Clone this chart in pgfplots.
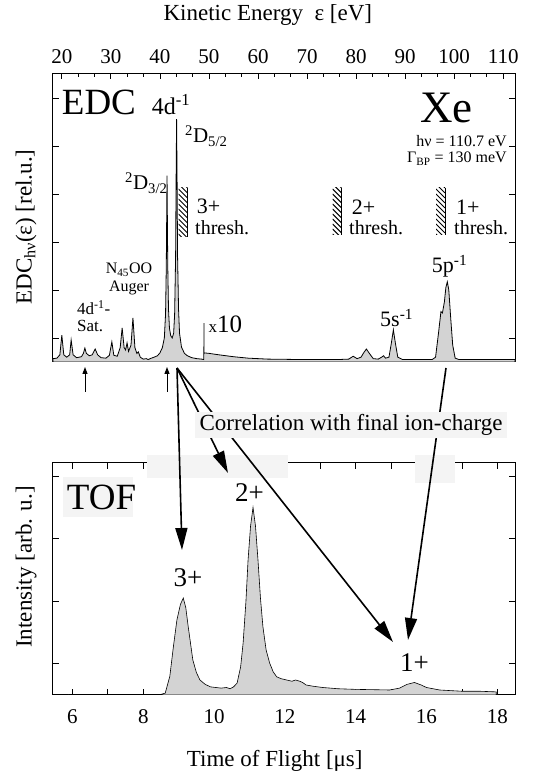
\documentclass[border=0pt]{standalone}
\usepackage{fontspec}
\setmainfont{Liberation Serif}
\usepackage{pgfplots}
\pgfplotsset{compat=1.18}
\usetikzlibrary{arrows.meta}
\newcommand\fs[1]{\fontsize{#1}{#1}\selectfont}
\definecolor{fillgray}{HTML}{D3D3D3}
\definecolor{boxgray}{HTML}{F4F4F4}
\newcommand\hatch[3]{%
  \begin{scope}
    \clip (#1-9,#3) rectangle (#1,#2);
    \foreach \k in {0,...,13} {\draw[line width=1pt] (#1-9,#2+9-\k*5) -- (#1,#2-\k*5);}
  \end{scope}
  \draw[line width=1pt] (#1,#2) -- (#1,#3);
}
\begin{document}
\begin{tikzpicture}
\path[use as bounding box] (0,0) rectangle (535pt,772pt);
% ---------------- EDC ----------------
\begin{axis}[at={(53pt,410pt)}, anchor=south west, scale only axis,
  width=462pt, height=289pt,
  xmin=18.2, xmax=112.4, ymin=0, ymax=6.02,
  axis line style={line width=1pt},
  xtick={20,30,...,110}, minor x tick num=2,
  xtick pos=right, xticklabel pos=right,
  ytick={0.5,1.5,...,5.5}, yticklabels={},
  tick align=inside, major tick length=6pt, minor tick length=4pt,
  every tick/.style={black, line width=0.8pt},
  /pgf/number format/assume math mode=true,
  ticklabel style={font=\fs{21}},
  xticklabel style={yshift=6pt},
  xlabel={Kinetic Energy\ \ ε [eV]},
  xlabel style={font=\fs{23}, at={(axis description cs:0.465,1.2)}, anchor=center},
  ylabel={EDC\textsubscript{hν}(ε) [rel.u.]},
  ylabel style={font=\fs{23}, at={(axis description cs:-0.058,0.467)}, anchor=center},
]
\addplot[draw=black, line width=0.8pt, fill=fillgray] table {
18.2 0.07
19.0 0.08
19.6 0.15
20.0 0.56
20.4 0.15
21.0 0.10
21.6 0.15
21.9 0.46
22.3 0.15
23.0 0.09
24.0 0.11
24.4 0.18
24.7 0.29
25.0 0.18
25.6 0.13
26.2 0.15
26.8 0.27
27.3 0.15
28.0 0.09
29.0 0.08
29.7 0.14
30.2 0.42
30.6 0.14
31.3 0.12
31.9 0.30
32.3 0.71
32.7 0.30
33.0 0.25
33.3 0.40
33.6 0.22
34.1 0.35
34.5 0.92
34.9 0.30
35.3 0.18
35.6 0.21
36.0 0.10
36.6 0.06
37.2 0.07
37.6 0.05
38.0 0.07
38.8 0.10
39.5 0.13
40.0 0.19
40.5 0.30
40.9 0.50
41.15 1.00
41.3 2.00
41.45 3.88
41.6 2.00
41.75 1.10
41.95 0.70
42.2 0.55
42.5 0.50
42.8 0.60
43.0 1.00
43.2 2.20
43.3 3.80
43.4 5.06
43.5 3.80
43.6 2.20
43.8 1.10
44.0 0.60
44.4 0.31
45.0 0.18
45.6 0.13
46.5 0.09
47.5 0.07
48.5 0.06
48.95 0.05
49.0 0.81
49.0 0.19
50.0 0.18
52.0 0.15
55.0 0.11
58.0 0.08
62.0 0.06
70.0 0.05
76.0 0.05
78.5 0.06
79.4 0.12
80.2 0.07
81.0 0.10
81.6 0.20
82.1 0.27
82.7 0.18
83.5 0.07
84.5 0.06
85.2 0.10
85.6 0.13
86.0 0.08
86.7 0.10
87.2 0.40
87.6 0.67
88.0 0.40
88.5 0.10
89.5 0.05
95.5 0.05
96.2 0.10
96.8 0.60
97.3 1.05
97.6 1.02
98.0 1.25
98.3 1.55
98.6 1.67
98.9 1.50
99.3 0.90
99.7 0.35
100.2 0.08
101.0 0.05
112.4 0.05
} \closedcycle;
\end{axis}
% ---------------- TOF ----------------
\begin{axis}[at={(53pt,77pt)}, anchor=south west, scale only axis,
  width=462pt, height=232pt,
  xmin=5.45, xmax=18.5, ymin=0, ymax=3.71,
  axis line style={line width=1pt},
  xtick={6,8,...,18}, minor xtick={7,9,...,17},
  ytick={0.5,1.5,2.5,3.5}, yticklabels={},
  tick align=inside, major tick length=6pt, minor tick length=6pt,
  every tick/.style={black, line width=0.8pt},
  /pgf/number format/assume math mode=true,
  ticklabel style={font=\fs{21}},
  xticklabel style={yshift=-11pt},
  xlabel={Time of Flight [μs]},
  xlabel style={font=\fs{23}, at={(axis description cs:0.48,-0.285)}, anchor=center},
  ylabel={Intensity [arb. u.]},
  ylabel style={font=\fs{23}, at={(axis description cs:-0.058,0.552)}, anchor=center},
]
\addplot[draw=black, line width=0.6pt, fill=fillgray] table {
5.9 0.01
8.5 0.01
8.62 0.03
8.75 0.30
8.85 0.77
8.95 1.20
9.05 1.45
9.13 1.55
9.2 1.40
9.27 1.09
9.4 0.56
9.5 0.36
9.6 0.24
9.75 0.17
9.9 0.13
10.05 0.12
10.2 0.11
10.35 0.12
10.45 0.10
10.55 0.13
10.65 0.19
10.75 0.45
10.82 0.83
10.9 1.50
10.96 2.16
11.03 2.70
11.1 3.00
11.17 2.70
11.24 2.16
11.31 1.55
11.38 1.09
11.47 0.72
11.57 0.51
11.67 0.37
11.77 0.29
11.9 0.26
12.05 0.24
12.2 0.22
12.3 0.24
12.42 0.22
12.5 0.20
12.6 0.16
12.8 0.14
13.07 0.12
13.5 0.10
14.0 0.09
14.5 0.085
14.96 0.08
15.24 0.11
15.45 0.17
15.66 0.20
15.85 0.16
16.0 0.12
16.37 0.08
17.0 0.06
17.5 0.06
17.97 0.05
} \closedcycle;
\end{axis}
% ---------------- annotations ----------------
\begin{scope}[x=1pt,y=1pt]
% EDC labels
\node[anchor=base west, inner sep=0, font=\fs{37}] at (61.7,657) {EDC};
\node[anchor=base west, inner sep=0, font=\fs{24}] at (151.7,657) {4d\textsuperscript{-1}};
\node[anchor=base west, inner sep=0, font=\fs{21}] at (185,629) {\textsuperscript{2}D\textsubscript{5/2}};
\node[anchor=base west, inner sep=0, font=\fs{21}] at (125,582) {\textsuperscript{2}D\textsubscript{3/2}};
\node[anchor=base, inner sep=0, font=\fs{16}] at (129,498) {N\textsubscript{45}OO};
\node[anchor=base, inner sep=0, font=\fs{16}] at (129,480) {Auger};
\node[anchor=base west, inner sep=0, font=\fs{17}] at (77,457) {4d\textsuperscript{-1}-};
\node[anchor=base west, inner sep=0, font=\fs{17}] at (77,440) {Sat.};
\node[anchor=base west, inner sep=0] at (208.3,439) {\fs{17}x\fs{25}10};
\node[anchor=base west, inner sep=0, font=\fs{45}] at (420,649) {Xe};
\node[anchor=base east, inner sep=0, font=\fs{16}] at (507,625.5) {hν = 110.7 eV};
\node[anchor=base east, inner sep=0, font=\fs{16}] at (507,609) {Γ\textsubscript{BP} = 130 meV};
\node[anchor=base west, inner sep=0, font=\fs{22}] at (380,445) {5s\textsuperscript{-1}};
\node[anchor=base west, inner sep=0, font=\fs{22}] at (431.7,499) {5p\textsuperscript{-1}};
% thresholds
\hatch{187.5}{584}{535}
\hatch{341.7}{584}{537}
\hatch{445}{584}{537}
\node[anchor=base west, inner sep=0, font=\fs{22}] at (196.7,558) {3+};
\node[anchor=base west, inner sep=0, font=\fs{20}] at (195,537) {thresh.};
\node[anchor=base west, inner sep=0, font=\fs{22}] at (351.7,557) {2+};
\node[anchor=base west, inner sep=0, font=\fs{20}] at (349,537) {thresh.};
\node[anchor=base west, inner sep=0, font=\fs{22}] at (456,557) {1+};
\node[anchor=base west, inner sep=0, font=\fs{20}] at (454,537) {thresh.};
% TOF labels
\fill[boxgray] (147,294) rectangle (288,317);
\fill[boxgray] (415,289) rectangle (455,317);
\fill[boxgray] (63,255) rectangle (133,295);
\node[anchor=base west, inner sep=0, font=\fs{37}] at (66.7,262) {TOF};
\node[anchor=base west, inner sep=0, font=\fs{27}] at (173.3,185) {3+};
\node[anchor=base west, inner sep=0, font=\fs{27}] at (235,270) {2+};
\node[anchor=base west, inner sep=0, font=\fs{27}] at (400,100) {1+};
% arrows
\draw[line width=1pt, -{Triangle[length=7pt,width=5pt]}] (85,380) -- (85,405);
\draw[line width=1pt, -{Triangle[length=7pt,width=5pt]}] (167,380) -- (167,405);
\draw[line width=1.6pt, -{Triangle[length=22pt,width=12pt]}] (177,404) -- (182,222);
\draw[line width=1.6pt, -{Triangle[length=22pt,width=12pt]}] (177,404) -- (228,299);
\draw[line width=1.6pt, -{Triangle[length=22pt,width=12pt]}] (177,404) -- (393,130);
\draw[line width=1.6pt, -{Triangle[length=22pt,width=12pt]}] (446,404) -- (408,132);
\fill[boxgray] (195,334) rectangle (507,360);
\node[anchor=base, inner sep=0, font=\fs{23}] at (351,341) {Correlation with final ion-charge};
\end{scope}
\end{tikzpicture}
\end{document}
